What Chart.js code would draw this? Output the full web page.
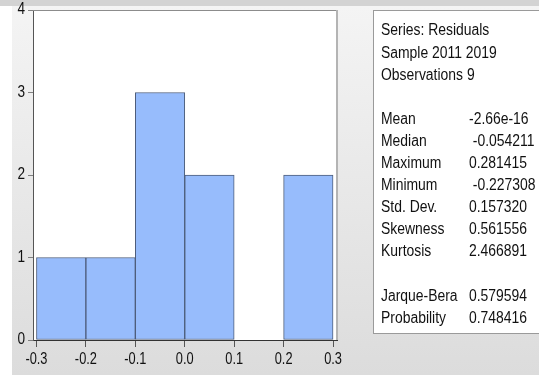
<!DOCTYPE html>
<html>
<head>
<meta charset="utf-8">
<script src="https://cdn.jsdelivr.net/npm/chart.js@4/dist/chart.umd.min.js"></script>
<style>
  html, body { margin: 0; padding: 0; background: #ffffff; overflow: hidden; }
  #wrap { width: 539px; height: 375px; position: relative; }
  canvas { display: block; }
</style>
</head>
<body>
<div id="wrap"><canvas id="hist" width="539" height="375"></canvas></div>
<script>
// Histogram bins of the residuals (bin centres, bin width 0.1)
const binCenters = [-0.25, -0.15, -0.05, 0.05, 0.15, 0.25];
const binCounts  = [1, 1, 3, 2, 0, 2];

// Axis tick values
const xTicks = [-0.3, -0.2, -0.1, 0.0, 0.1, 0.2, 0.3];
const yTicks = [0, 1, 2, 3, 4];

// Descriptive statistics panel (blank strings are spacer rows)
const statLabels = ['Series: Residuals', 'Sample 2011 2019', 'Observations 9', '',
  'Mean', 'Median', 'Maximum', 'Minimum', 'Std. Dev.', 'Skewness', 'Kurtosis', '',
  'Jarque-Bera', 'Probability'];
const statValues = ['', '', '', '',
  '-2.66e-16', ' -0.054211', '0.281415', ' -0.227308', '0.157320', '0.561556', '2.466891', '',
  '0.579594', '0.748416'];

const FONT = "16px 'Liberation Sans', Arial, sans-serif";
const TEXT = '#111111';

// draw a horizontally condensed text string
function condensedText(ctx, str, x, y, sx, align) {
  ctx.save();
  ctx.translate(x, y);
  ctx.scale(sx, 1);
  ctx.textAlign = align;
  ctx.textBaseline = 'middle';
  ctx.fillText(str, 0, 0);
  ctx.restore();
}

const decor = {
  id: 'decor',
  beforeDraw(chart) {
    const ctx = chart.ctx;
    const W = chart.width, H = chart.height;
    const a = chart.chartArea;
    ctx.save();
    ctx.fillStyle = '#ffffff';
    ctx.fillRect(0, 0, W, H);
    const g = ctx.createLinearGradient(0, 6, 0, H);
    g.addColorStop(0, '#f4f4f4');
    g.addColorStop(1, '#dcdcdc');
    ctx.fillStyle = g;
    ctx.fillRect(12, 6, W - 12, H - 6);
    ctx.fillStyle = '#d3d3d3';
    ctx.fillRect(0, 0, W, 6);
    // plot area
    ctx.fillStyle = '#ffffff';
    ctx.fillRect(a.left, a.top, a.right - a.left, a.bottom - a.top);
    ctx.restore();
  },
  afterDraw(chart) {
    const ctx = chart.ctx;
    const a = chart.chartArea;
    const xs = chart.scales.x, ys = chart.scales.y;
    ctx.save();
    // frame: top and right edges
    ctx.strokeStyle = '#8c8c8c';
    ctx.lineWidth = 1;
    ctx.beginPath();
    ctx.moveTo(a.left, a.top + 0.5);
    ctx.lineTo(a.right, a.top + 0.5);
    ctx.stroke();
    ctx.strokeStyle = '#b4b4b4';
    ctx.lineWidth = 2;
    ctx.beginPath();
    ctx.moveTo(a.right, a.top);
    ctx.lineTo(a.right, a.bottom);
    ctx.stroke();

    // tick labels
    ctx.font = FONT;
    ctx.fillStyle = TEXT;
    xTicks.forEach(v => {
      condensedText(ctx, v.toFixed(1), xs.getPixelForValue(v), 360, 0.8, 'center');
    });
    yTicks.forEach(v => {
      condensedText(ctx, String(v), 25, ys.getPixelForValue(v), 0.85, 'right');
    });

    // statistics box
    ctx.fillStyle = '#ffffff';
    ctx.fillRect(373.5, 10.5, 170, 323);
    ctx.strokeStyle = '#9a9a9a';
    ctx.lineWidth = 1;
    ctx.strokeRect(373.5, 10.5, 170, 323);
    ctx.fillStyle = TEXT;
    statLabels.forEach((s, i) => {
      const y = 31 + i * 22.1;
      if (s) condensedText(ctx, s, 381, y, 0.87, 'left');
      if (statValues[i]) condensedText(ctx, statValues[i], 469, y, 0.87, 'left');
    });
    ctx.restore();
  }
};

new Chart(document.getElementById('hist').getContext('2d'), {
  type: 'bar',
  data: {
    datasets: [{
      data: binCenters.map((x, i) => ({ x: x, y: binCounts[i] })),
      backgroundColor: '#97bcfc',
      borderColor: '#4d5d7a',
      borderWidth: 1,
      borderSkipped: false,
      barPercentage: 1,
      categoryPercentage: 1
    }]
  },
  options: {
    responsive: false,
    animation: false,
    devicePixelRatio: 1,
    layout: { padding: { left: 0, top: 10, right: 202, bottom: 0 } },
    plugins: { legend: { display: false }, tooltip: { enabled: false } },
    scales: {
      x: {
        type: 'linear',
        offset: false,
        min: -0.307,
        max: 0.308,
        afterBuildTicks: s => { s.ticks = xTicks.map(v => ({ value: v })); },
        afterFit: s => { s.height = 35; },
        ticks: { display: false },
        grid: { offset: false, drawOnChartArea: false, drawTicks: true, tickLength: 7, color: '#555555', lineWidth: 1 },
        border: { display: true, color: '#333333', width: 1 }
      },
      y: {
        type: 'linear',
        min: 0,
        max: 4,
        afterBuildTicks: s => { s.ticks = yTicks.map(v => ({ value: v })); },
        afterFit: s => { s.width = 33; },
        ticks: { display: false },
        grid: { drawOnChartArea: false, drawTicks: true, tickLength: 5, color: '#808080', lineWidth: 1 },
        border: { display: true, color: '#555555', width: 1 }
      }
    }
  },
  plugins: [decor]
});
</script>
</body>
</html>
